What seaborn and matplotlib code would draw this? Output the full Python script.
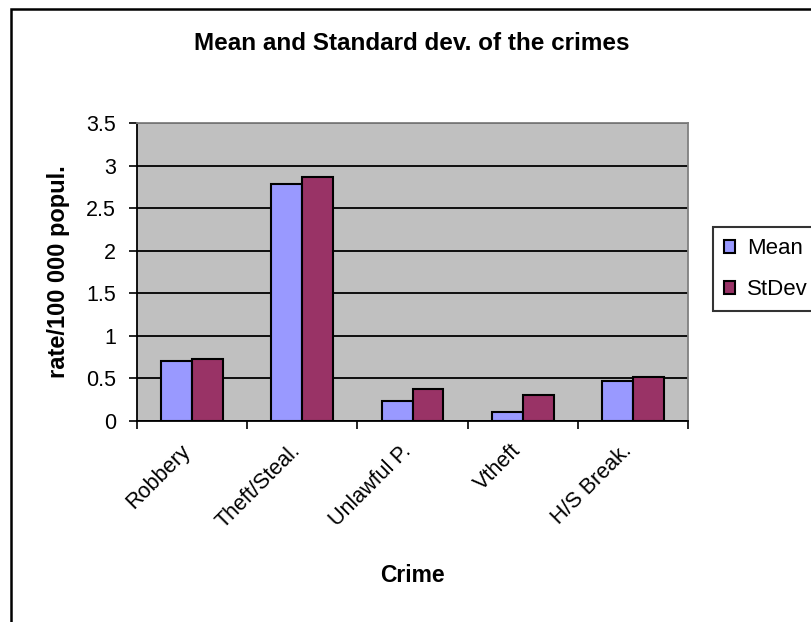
import matplotlib
matplotlib.use("Agg")
import matplotlib.pyplot as plt
from matplotlib.patches import Rectangle
from matplotlib.ticker import FuncFormatter
from matplotlib.transforms import ScaledTranslation
import pandas as pd
import seaborn as sns

crimes = ["Robbery", "Theft/Steal.", "Unlawful P.", "Vtheft", "H/S Break."]
mean_vals = [0.71, 2.78, 0.23, 0.10, 0.465]
stdev_vals = [0.73, 2.87, 0.37, 0.31, 0.52]
series = ["Mean", "StDev"]
colors = ["#9999FF", "#993366"]

df = pd.DataFrame({
    "Crime": crimes * 2,
    "value": mean_vals + stdev_vals,
    "series": [series[0]] * len(crimes) + [series[1]] * len(crimes),
})

sns.set_style("white")
plt.rcParams["font.family"] = ["Liberation Sans", "DejaVu Sans"]
plt.rcParams["text.color"] = "black"
plt.rcParams["axes.labelcolor"] = "black"
plt.rcParams["xtick.color"] = "black"
plt.rcParams["ytick.color"] = "black"

fig = plt.figure(figsize=(8.12, 6.22), dpi=100)
ax = fig.add_axes([137 / 812, 1 - 421 / 622, (688 - 137) / 812, (421 - 123) / 622])

# outer chart border
fig.patches.append(Rectangle((11 / 812, -0.01), 1.0, 1 - 9 / 622 + 0.01,
                             transform=fig.transFigure, fill=False,
                             edgecolor="black", linewidth=1.8))

sns.barplot(data=df, x="Crime", y="value", hue="series", palette=colors,
            width=0.56, edgecolor="black", linewidth=1.5, saturation=1,
            ax=ax, zorder=3)

ax.set_facecolor("#C0C0C0")
ax.set_ylim(0, 3.5)
ax.set_xlim(-0.5, 4.5)
ax.set_yticks([0, 0.5, 1, 1.5, 2, 2.5, 3, 3.5])
ax.yaxis.set_major_formatter(FuncFormatter(lambda v, p: "%g" % v))
ax.grid(axis="y", color="black", linewidth=1.3, zorder=0)
ax.set_axisbelow(True)

ax.set_xticks(range(len(crimes)))
ax.set_xticklabels(crimes, rotation=45, ha="right", rotation_mode="anchor",
                   fontsize=15.5)
ax.set_xticks([i - 0.5 for i in range(len(crimes) + 1)], minor=True)
ax.tick_params(axis="x", which="major", length=0, pad=14)
ax.tick_params(axis="x", which="minor", length=6, width=1.2, color="black",
               direction="out", bottom=True)
ax.tick_params(axis="y", length=6, width=1.2, color="black", direction="out",
               left=True, labelsize=15.5, pad=9)
shift = ScaledTranslation(-12 / 100, 0, fig.dpi_scale_trans)
for lab in ax.get_xticklabels():
    lab.set_transform(lab.get_transform() + shift)

for side in ["left", "bottom"]:
    ax.spines[side].set_color("black")
    ax.spines[side].set_linewidth(1.3)
for side in ["top", "right"]:
    ax.spines[side].set_color("#808080")
    ax.spines[side].set_linewidth(1.3)

ax.set_xlabel("Crime", fontsize=16.5, fontweight="bold", va="center")
ax.xaxis.set_label_coords(0.5, (421 - 576) / 298)
ax.set_ylabel("rate/100 000 popul.", fontsize=17, fontweight="bold", va="center")
ax.yaxis.set_label_coords((59 - 137) / 551, 0.5)
fig.text(412 / 812, 1 - 43 / 622, "Mean and Standard dev. of the crimes",
         ha="center", va="center", fontsize=17.5, fontweight="bold")

handles, labels = ax.get_legend_handles_labels()
ax.legend(handles, labels, loc="upper left", bbox_to_anchor=(713 / 812, 1 - 227 / 622),
          bbox_transform=fig.transFigure, borderaxespad=0, frameon=True,
          fancybox=False, edgecolor="black", fontsize=16, handlelength=0.5,
          handleheight=0.5, handletextpad=0.55, labelspacing=0.9, borderpad=0.5,
          title=None)
ax.get_legend().get_frame().set_linewidth(1.5)

fig.savefig("out.png", dpi=100)
